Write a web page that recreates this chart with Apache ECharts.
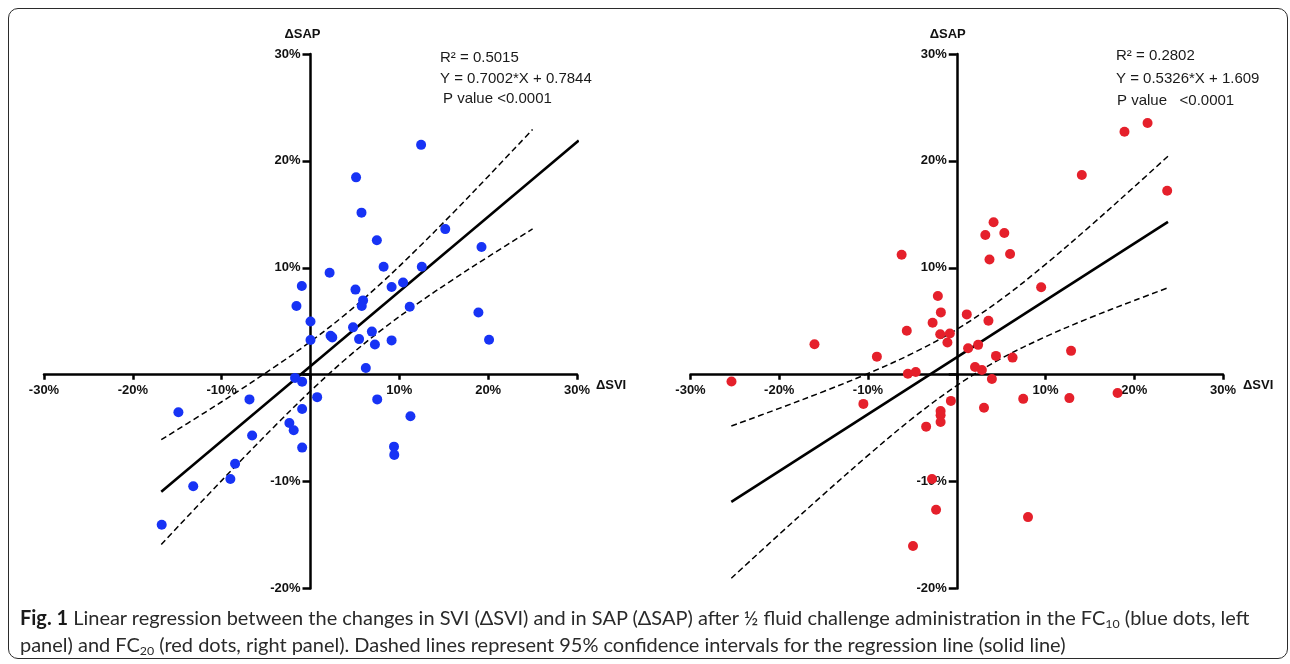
<!DOCTYPE html>
<html>
<head>
<meta charset="utf-8">
<script src="https://cdn.jsdelivr.net/npm/echarts@6/dist/echarts.min.js"></script>
<style>
  html, body { margin: 0; padding: 0; background: #fff; }
  #wrap { position: relative; width: 1290px; height: 664px; overflow: hidden; }
  #chart { position: absolute; left: 0; top: 0; width: 1290px; height: 664px; }
  #frame { position: absolute; left: 8px; top: 8px; width: 1278px; height: 649px;
           border: 1.5px solid #2b2b2b; border-radius: 10px; pointer-events: none; }
  #caption { position: absolute; left: 20px; top: 604px; font-family: Lato, "Open Sans", sans-serif;
             color: #2a2a2a; font-size: 19px; line-height: 27px; white-space: nowrap; }
  #caption span { display: inline-block; }
  #caption b { color: #1a1a1a; }
  #caption sub { font-size: 0.62em; vertical-align: -0.25em; line-height: 0; }
</style>
</head>
<body>
<div id="wrap">
  <div id="chart"></div>
  <div id="frame"></div>
  <div id="caption">
    <span id="cap1"><b>Fig. 1</b> Linear regression between the changes in SVI (ΔSVI) and in SAP (ΔSAP) after ½ fluid challenge administration in the FC<sub>10</sub> (blue dots, left</span><br>
    <span id="cap2">panel) and FC<sub>20</sub> (red dots, right panel). Dashed lines represent 95% confidence intervals for the regression line (solid line)</span>
  </div>
</div>
<script>
// ---------- data (percent) ----------
const xTicks = [-30, -20, -10, 0, 10, 20, 30];
const yTicks = [-20, -10, 0, 10, 20, 30];

// FC10 (left panel, blue)
const leftSVI = [12.45,5.13,5.74,7.47,15.17,19.25,2.15,-0.98,8.23,12.53,10.42,9.13,5.06,5.92,5.77,-1.58,11.17,18.9,0,4.79,6.91,2.26,2.45,0,5.47,9.13,20.1,7.25,6.23,-1.74,-0.94,0.75,-6.87,7.51,-14.87,-0.94,11.25,-2.38,-1.89,-6.57,-0.94,9.4,9.43,-8.49,-9.02,-13.2,-16.75];
const leftSAP = [21.5,18.46,15.16,12.58,13.62,11.95,9.53,8.3,10.09,10.09,8.62,8.21,7.96,6.95,6.42,6.42,6.35,5.82,4.97,4.43,4.03,3.65,3.49,3.24,3.33,3.21,3.27,2.83,0.63,-0.3,-0.65,-2.1,-2.31,-2.31,-3.52,-3.21,-3.89,-4.51,-5.19,-5.68,-6.82,-6.73,-7.5,-8.33,-9.75,-10.43,-14.04];
const leftFitX = [-16.8, 30.2];
const leftFitY = [-10.95, 21.9];
const leftCIX = [-16.8,-12,-8,-4,0,4,8,12,16,20,25];
const leftCIUpper = [-6.08,-3.59,-1.46,0.75,3.10,5.69,8.59,11.76,15.10,18.55,22.94];
const leftCILower = [-15.88,-11.65,-8.18,-4.79,-1.53,1.49,4.19,6.62,8.88,11.03,13.64];
const leftStats = ['R² = 0.5015', 'Y = 0.7002*X + 0.7844', 'P value <0.0001'];

// FC20 (right panel, red)
const rightSVI = [14.09,23.71,4.15,3.22,5.36,-6.21,6.01,3.69,9.51,-2.13,-1.79,1.13,-2.72,3.57,-5.63,-1.86,-0.78,-1.05,-16.03,1.28,2.41,12.88,-9.0,4.42,6.29,2.06,2.83,-5.51,-4.62,3.96,-25.38,-10.52,-0.66,-1.82,-1.82,-1.82,-3.45,3.07,7.49,12.69,18.12,-2.79,-2.33,-4.93,8.03,18.9,21.5];
const rightSAP = [18.68,17.21,14.26,13.07,13.26,11.22,11.29,10.78,8.18,7.37,5.83,5.64,4.86,5.05,4.11,3.79,3.86,3.01,2.85,2.48,2.79,2.23,1.69,1.76,1.6,0.72,0.44,0.09,0.25,-0.4,-0.63,-2.73,-2.45,-3.39,-3.79,-4.42,-4.86,-3.1,-2.26,-2.19,-1.72,-9.75,-12.63,-16.02,-13.32,22.73,23.54];
const rightFitX = [-25.4, 23.8];
const rightFitY = [-11.9, 14.3];
const rightCIX = [-25.4,-20,-15,-10,-5,0,5,10,15,20,23.8];
const rightCIUpper = [-4.80,-3.15,-1.57,0.11,1.99,4.24,7.04,10.32,13.88,17.58,20.44];
const rightCILower = [-19.04,-14.93,-11.19,-7.55,-4.09,-1.02,1.51,3.55,5.32,6.94,8.13];
const rightStats = ['R² = 0.2802', 'Y = 0.5326*X + 1.609', 'P value   <0.0001'];

const xName = 'ΔSVI';
const yName = 'ΔSAP';

// ---------- helpers ----------
const zip = (a, b) => a.map((v, i) => [v, b[i]]);
const FONT = '"Liberation Sans", Arial, sans-serif';
const pct = v => (v === 0 ? '' : v + '%');

const grids = [
  { left: 44, width: 533, top: 54, height: 534.5 },
  { left: 690.5, width: 532.5, top: 54, height: 534.5 }
];
const xMin = xTicks[0], xMax = xTicks[xTicks.length - 1];
const yMin = yTicks[0], yMax = yTicks[yTicks.length - 1];

// place axis lines through the origin (labels follow the line)
function xOffset(g) { return -g.height * (0 - yMin) / (yMax - yMin); }
function yOffset(g) { return -g.width * (0 - xMin) / (xMax - xMin); }

function makeX(gi, nameGap) {
  return {
    type: 'value', gridIndex: gi, position: 'bottom', offset: xOffset(grids[gi]),
    min: xMin, max: xMax, interval: 10,
    splitLine: { show: false },
    axisLine: { onZero: false, lineStyle: { color: '#000', width: 2.5 } },
    axisTick: { show: true, length: 5, lineStyle: { color: '#000', width: 2.5 } },
    axisLabel: { formatter: pct, fontFamily: FONT, fontWeight: 'bold', fontSize: 13, color: '#111', margin: 9 },
    name: xName, nameLocation: 'end', nameGap: nameGap,
    nameTextStyle: { fontFamily: FONT, fontWeight: 'bold', fontSize: 13, color: '#111',
                     verticalAlign: 'top', padding: [4, 0, 0, 0] }
  };
}
function makeY(gi, shift) {
  return {
    type: 'value', gridIndex: gi, position: 'left', offset: yOffset(grids[gi]),
    min: yMin, max: yMax, interval: 10,
    splitLine: { show: false },
    axisLine: { onZero: false, lineStyle: { color: '#000', width: 2.5 } },
    axisTick: { show: true, length: 8, lineStyle: { color: '#000', width: 2.5 } },
    axisLabel: { formatter: pct, fontFamily: FONT, fontWeight: 'bold', fontSize: 13, color: '#111', margin: 10 },
    name: yName, nameLocation: 'end', nameGap: 13,
    nameTextStyle: { fontFamily: FONT, fontWeight: 'bold', fontSize: 13, color: '#111', padding: [0, shift, 0, 0] }
  };
}
function lineSeries(gi, xs, ys, dashed) {
  return {
    type: 'line', xAxisIndex: gi, yAxisIndex: gi, data: zip(xs, ys),
    showSymbol: false, smooth: dashed ? 0.35 : false, silent: true, z: 2,
    lineStyle: dashed ? { color: '#000', width: 1.5, type: [6, 3.5] } : { color: '#000', width: 2.6 }
  };
}
function statText(lines, left, tops) {
  return lines.map((t, i) => ({
    type: 'text', left: left[i], top: tops[i],
    style: { text: t, fontFamily: FONT, fontSize: 15, fill: '#1a1a1a' }
  }));
}

const chart = echarts.init(document.getElementById('chart'), null, { renderer: 'canvas' });
chart.setOption({
  backgroundColor: 'transparent',
  animation: false,
  grid: grids,
  xAxis: [makeX(0, 16), makeX(1, 20)],
  yAxis: [makeY(0, 16), makeY(1, 18)],
  series: [
    lineSeries(0, leftCIX, leftCIUpper, true),
    lineSeries(0, leftCIX, leftCILower, true),
    lineSeries(0, leftFitX, leftFitY, false),
    { type: 'scatter', xAxisIndex: 0, yAxisIndex: 0, data: zip(leftSVI, leftSAP),
      symbol: 'circle', symbolSize: 10, itemStyle: { color: '#1733f5', opacity: 1 }, z: 3 },
    lineSeries(1, rightCIX, rightCIUpper, true),
    lineSeries(1, rightCIX, rightCILower, true),
    lineSeries(1, rightFitX, rightFitY, false),
    { type: 'scatter', xAxisIndex: 1, yAxisIndex: 1, data: zip(rightSVI, rightSAP),
      symbol: 'circle', symbolSize: 10, itemStyle: { color: '#e5202b', opacity: 1 }, z: 3 }
  ],
  graphic: [
    ...statText(leftStats, [440, 440, 443], [50, 71, 91]),
    ...statText(rightStats, [1116, 1116, 1117], [48, 71, 93])
  ]
});

// fit caption line 1 to its width in the reference
function fitCaption() {
  const c1 = document.getElementById('cap1');
  const cap = document.getElementById('caption');
  cap.style.fontSize = '19px';
  const target = 1230;
  const w = c1.getBoundingClientRect().width;
  if (w > 0) {
    const fs = 19 * target / w;
    cap.style.fontSize = fs.toFixed(2) + 'px';
  }
}
fitCaption();
if (document.fonts && document.fonts.ready) document.fonts.ready.then(fitCaption);
</script>
</body>
</html>
